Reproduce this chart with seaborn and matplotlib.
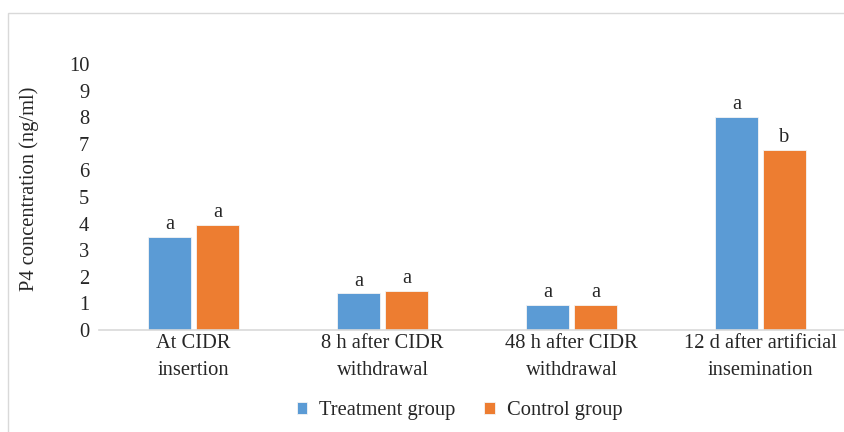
import matplotlib
matplotlib.use("Agg")
import matplotlib.pyplot as plt
import matplotlib.patches as mpatches
import seaborn as sns
import pandas as pd

# data
stages = ["At CIDR\ninsertion", "8 h after CIDR\nwithdrawal",
          "48 h after CIDR\nwithdrawal", "12 d after artificial\ninsemination"]
treatment = [3.5, 1.38, 0.93, 8.0]
control = [3.96, 1.47, 0.93, 6.78]
treatment_letters = ["a", "a", "a", "a"]
control_letters = ["a", "a", "a", "b"]
groups = ["Treatment group", "Control group"]
colors = ["#5B9BD5", "#ED7D31"]

df = pd.DataFrame({
    "stage": stages * 2,
    "group": [groups[0]] * len(stages) + [groups[1]] * len(stages),
    "p4": treatment + control,
})

sns.set_style("white")
plt.rcParams["font.family"] = ["Liberation Serif", "DejaVu Serif"]
FS = 14.8

fig = plt.figure(figsize=(8.45, 4.32), dpi=100)
ax = fig.add_axes([99 / 845, 102 / 432, 756 / 845, 266 / 432])

sns.barplot(data=df, x="stage", y="p4", hue="group", order=stages,
            hue_order=groups, palette=colors, saturation=1, width=0.51,
            gap=0.12, edgecolor="#f4f4f4", linewidth=0.6, ax=ax, legend=True)

for cont, letters in zip(ax.containers, [treatment_letters, control_letters]):
    ax.bar_label(cont, labels=letters, padding=2, fontsize=FS)

ax.set_xlim(-0.5, 3.5)
ax.set_ylim(0, 10)
ax.set_yticks(range(0, 11))
ax.tick_params(axis="y", length=0, pad=7, labelsize=FS)
ax.tick_params(axis="x", length=0, pad=3, labelsize=FS)
for lab in ax.get_xticklabels():
    lab.set_linespacing(1.55)
ax.set_xlabel("")
ax.set_ylabel("P4 concentration (ng/ml)", fontsize=FS)
ax.yaxis.set_label_coords(-60 / 756, 0.53)

for side in ["top", "right", "left"]:
    ax.spines[side].set_visible(False)
ax.spines["bottom"].set_color("#d9d9d9")
ax.spines["bottom"].set_linewidth(1.2)

handles, labels = ax.get_legend_handles_labels()
ax.get_legend().remove()
fig.legend(handles, labels, loc="center", bbox_to_anchor=(0.544, 0.049),
           ncol=2, frameon=False, fontsize=FS, handlelength=0.5,
           handleheight=0.5, handletextpad=0.6, columnspacing=1.4)

# light chart-area frame
frame = mpatches.Rectangle((8 / 845, -0.1), 1.2, (432 - 13) / 432 + 0.1,
                           transform=fig.transFigure, fill=False,
                           edgecolor="#d9d9d9", linewidth=1.0, clip_on=False)
fig.patches.append(frame)

fig.savefig("out.png", dpi=100)
